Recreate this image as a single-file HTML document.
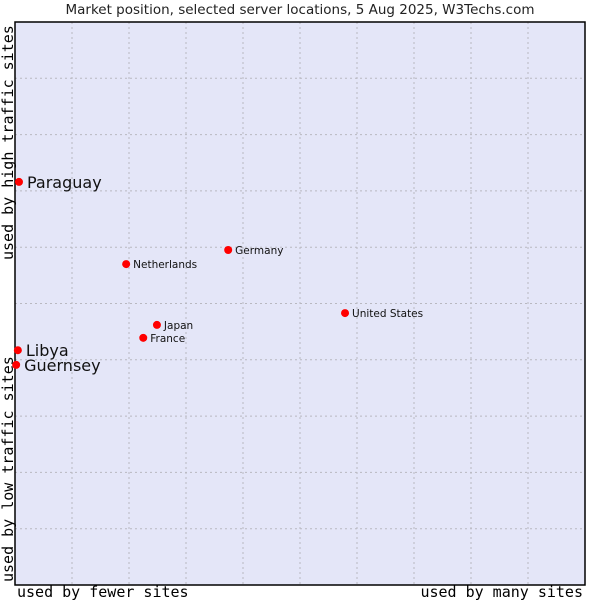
<!DOCTYPE html>
<html><head><meta charset="utf-8"><style>
body{margin:0;background:#fff;width:600px;height:600px;overflow:hidden}
svg{display:block}
</style></head><body>
<svg width="600" height="600" xmlns="http://www.w3.org/2000/svg">
<text x="300" y="14" text-anchor="middle" font-family="DejaVu Sans, sans-serif" font-size="13.5" fill="#222">Market position, selected server locations, 5 Aug 2025, W3Techs.com</text>
<rect x="15" y="22" width="570" height="563" fill="#e4e6f8"/>
<g id="grid"></g>
<rect x="15" y="22" width="570" height="563" fill="none" stroke="#000" stroke-width="1.5"/>
<g id="pts"></g>
<text x="17" y="597" font-family="DejaVu Sans Mono, Liberation Mono, monospace" font-size="15" fill="#000">used by fewer sites</text>
<text x="583" y="597" text-anchor="end" font-family="DejaVu Sans Mono, Liberation Mono, monospace" font-size="15" fill="#000">used by many sites</text>
<text transform="translate(13,260) rotate(-90)" font-family="DejaVu Sans Mono, Liberation Mono, monospace" font-size="15" fill="#000">used by high traffic sites</text>
<text transform="translate(13,582) rotate(-90)" font-family="DejaVu Sans Mono, Liberation Mono, monospace" font-size="15" fill="#000">used by low traffic sites</text>
</svg>
<script>
const names=["Paraguay","Netherlands","Germany","United States","Japan","France","Libya","Guernsey"];
const xVals=[0.7,19.5,37.4,57.9,24.9,22.5,0.5,0.2];
const yVals=[71.6,57.0,59.5,48.3,46.2,43.9,41.7,39.1];
const bigLabel=[true,false,false,false,false,false,true,true];
const NS="http://www.w3.org/2000/svg";
const X0=15,X1=585,Y0=585,Y1=22;
const sx=v=>X0+(X1-X0)*v/100, sy=v=>Y0-(Y0-Y1)*v/100;
const grid=document.getElementById('grid');
for(let i=1;i<10;i++){
  const v=document.createElementNS(NS,'line');
  v.setAttribute('x1',sx(i*10));v.setAttribute('x2',sx(i*10));v.setAttribute('y1',Y1);v.setAttribute('y2',Y0);
  v.setAttribute('stroke','#b8b8c0');v.setAttribute('stroke-dasharray','2,3');
  
  
  grid.appendChild(v);
  const h=document.createElementNS(NS,'line');
  h.setAttribute('y1',sy(i*10));h.setAttribute('y2',sy(i*10));h.setAttribute('x1',X0);h.setAttribute('x2',X1);
  h.setAttribute('stroke','#b8b8c0');h.setAttribute('stroke-dasharray','2,3');
  
  
  grid.appendChild(h);
}
const pts=document.getElementById('pts');
names.forEach((n,i)=>{
  const cx=sx(xVals[i]),cy=sy(yVals[i]);
  const c=document.createElementNS(NS,'circle');
  c.setAttribute('cx',cx);c.setAttribute('cy',cy);c.setAttribute('r',4);c.setAttribute('fill','#ff0000');
  
  
  pts.appendChild(c);
  const t=document.createElementNS(NS,'text');
  t.setAttribute('x',cx+(bigLabel[i]?8:7));t.setAttribute('y',cy+(bigLabel[i]?6:4));
  t.setAttribute('font-family','DejaVu Sans, sans-serif');
  t.setAttribute('font-size',bigLabel[i]?16:10.5);t.setAttribute('fill','#111');
  t.textContent=n;
  
  
  pts.appendChild(t);
});
</script>
</body></html>
